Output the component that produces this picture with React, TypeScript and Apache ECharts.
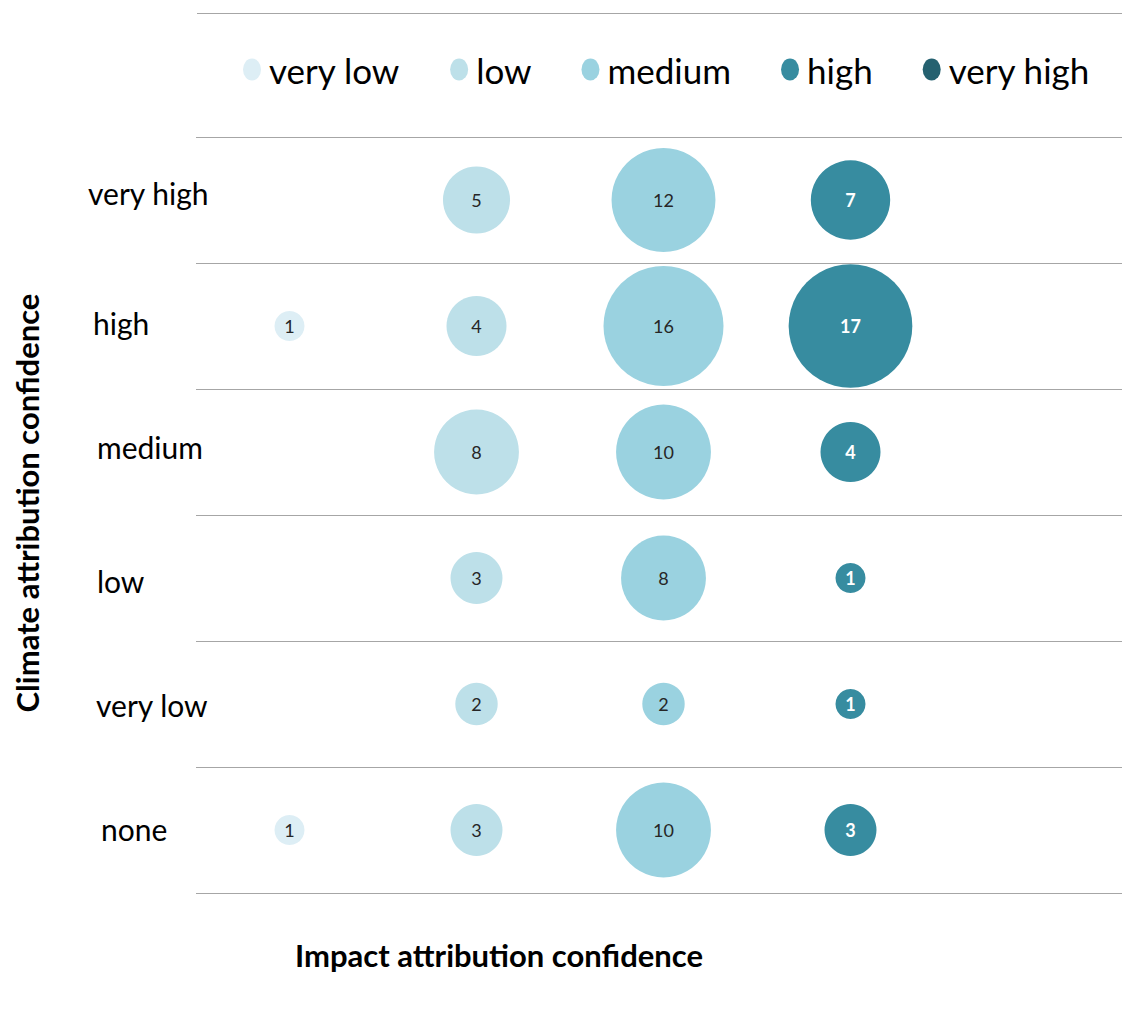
import React, { useEffect, useRef } from "react";
import * as echarts from "echarts";

const impactCats = ["very low", "low", "medium", "high", "very high"];
const climateCats = ["none", "very low", "low", "medium", "high", "very high"];

// counts per impact-confidence column, ordered by climateCats (null = none)
const impactVeryLow = [1, null, null, null, 1, null];
const impactLow = [3, 2, 3, 8, 4, 5];
const impactMedium = [10, 2, 8, 10, 16, 12];
const impactHigh = [3, 1, 1, 4, 17, 7];
const impactVeryHigh = [null, null, null, null, null, null];

const seriesValues = [impactVeryLow, impactLow, impactMedium, impactHigh, impactVeryHigh];
const colors = ["#ddeef5", "#bde0e9", "#9ad2e0", "#378ca0", "#256170"];
const labelColors = ["#262626", "#262626", "#262626", "#ffffff", "#ffffff"];
const labelWeights = ["normal", "normal", "normal", "bold", "bold"];

// small per-label indents of the y category labels, as in the reference
const yLabelIndent = [13, 8, 9, 9, 5, 0];
const yLabelRaise = [1, -1, -3, 5, 3, 7];

const FONT = "Lato, 'Open Sans', sans-serif";
const ellipse = "path://M9,0 A9,11 0 1,1 9,22 A9,11 0 1,1 9,0 Z";

export default function App() {
  const ref = useRef<HTMLDivElement>(null);
  useEffect(() => {
    if (!ref.current) return;
    const chart = echarts.init(ref.current, null, { renderer: "svg" });
    const series = impactCats.map((name, i) => ({
      name,
      type: "scatter",
      data: seriesValues[i]
        .map((v, j) => (v == null ? null : [name, climateCats[j], v]))
        .filter((d) => d != null),
      symbolSize: (d: any) => 30 * Math.sqrt(d[2]),
      itemStyle: { color: colors[i], opacity: 1 },
      label: {
        show: true,
        position: "inside",
        formatter: (p: any) => String(p.value[2]),
        color: labelColors[i],
        fontWeight: labelWeights[i],
        fontSize: 18,
        fontFamily: FONT,
      },
      emphasis: { disabled: true },
    }));
    const rich: any = {};
    climateCats.forEach((_, j) => {
      const r = yLabelRaise[j];
      rich["c" + j] = {
        fontSize: 30,
        fontFamily: FONT,
        color: "#000",
        padding: [r < 0 ? -2 * r : 0, 0, r > 0 ? 2 * r : 0, yLabelIndent[j]],
      };
    });
    chart.setOption({
      animation: false,
      legend: {
        data: impactCats,
        top: 47,
        left: 238,
        itemGap: 50,
        itemWidth: 18,
        itemHeight: 22,
        icon: ellipse,
        textStyle: { fontSize: 35, fontFamily: FONT, color: "#000", padding: [0, 0, 0, 3] },
        selectedMode: false,
      },
      grid: { left: 196, top: 137, width: 935, height: 756, outerBoundsMode: "none" },
      xAxis: {
        type: "category",
        data: impactCats,
        boundaryGap: true,
        axisLine: { show: false },
        axisTick: { show: false },
        axisLabel: { show: false },
        splitLine: { show: false },
      },
      yAxis: {
        type: "category",
        data: climateCats,
        boundaryGap: true,
        axisLine: { show: false },
        axisTick: { show: false },
        axisLabel: {
          align: "left",
          margin: 108,
          fontSize: 30,
          fontFamily: FONT,
          color: "#000",
          formatter: (v: string, idx: number) => `{c${idx}|${v}}`,
          rich,
        },
        splitLine: { show: true, lineStyle: { color: "#a6a6a6", width: 1 } },
      },
      graphic: [
        {
          type: "line",
          shape: { x1: 197, y1: 13.5, x2: 1122, y2: 13.5 },
          style: { stroke: "#a6a6a6", lineWidth: 1 },
        },
        {
          type: "text",
          x: 499,
          y: 955,
          style: {
            text: "Impact attribution confidence",
            fontSize: 31,
            fontWeight: "bold",
            fontFamily: FONT,
            fill: "#000",
            align: "center",
            verticalAlign: "middle",
          },
        },
        {
          type: "text",
          x: 27,
          y: 503,
          rotation: Math.PI / 2,
          style: {
            text: "Climate attribution confidence",
            fontSize: 31,
            fontWeight: "bold",
            fontFamily: FONT,
            fill: "#000",
            align: "center",
            verticalAlign: "middle",
          },
        },
      ],
      series,
    });
    return () => chart.dispose();
  }, []);
  return (
    <div
      ref={ref}
      style={{ position: "fixed", left: 0, top: 0, width: 1122, height: 1011, background: "#fff" }}
    />
  );
}
